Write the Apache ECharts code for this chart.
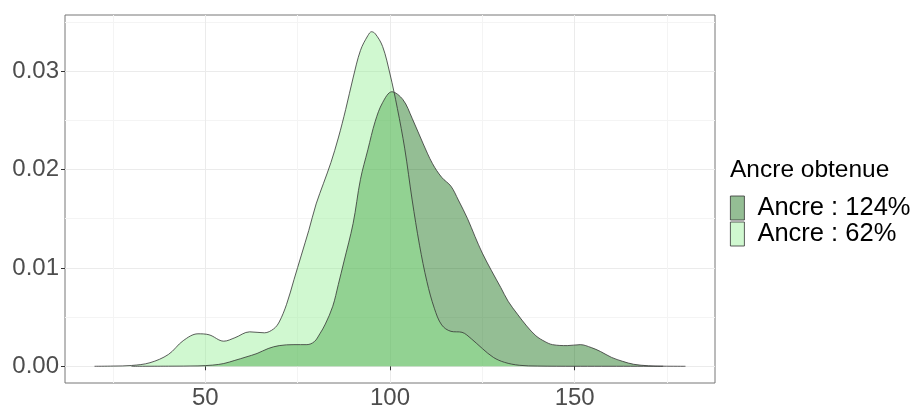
<!DOCTYPE html>
<html>
<head>
<meta charset="utf-8">
<script src="https://cdn.jsdelivr.net/npm/echarts@6/dist/echarts.min.js"></script>
<style>
  html, body { margin: 0; background: #fff; }
  #chart { width: 912px; height: 410px; }
</style>
</head>
<body>
<div id="chart"></div>
<script>
// density of the 124% anchor
const x124 = [30, 40, 48, 52, 55, 58, 61, 64, 67, 70, 74, 77.5, 79.5, 81, 82.5, 84.5, 86, 87.5, 90, 92,
  94, 96, 98, 100.5, 103.5, 106, 109, 111.5, 114, 116.5, 118.5, 121, 123, 125, 127.5, 130, 132, 134.5,
  137, 139.5, 142, 144, 148, 151.5, 154.5, 157, 160, 163, 166, 170, 174, 180]
const d124 = [0, 0.00001, 0.00004, 0.00012, 0.00028, 0.0006, 0.00094, 0.0013, 0.0018, 0.0021, 0.0022,
  0.0022, 0.0025, 0.0033, 0.0043, 0.0061, 0.0083, 0.0106, 0.0145, 0.0190, 0.0220, 0.0249, 0.0268, 0.0279,
  0.0271, 0.0252, 0.0226, 0.0206, 0.0192, 0.0183, 0.0169, 0.0150, 0.0132, 0.0115, 0.0097, 0.0080, 0.0066,
  0.0053, 0.0041, 0.0031, 0.0025, 0.0022, 0.0021, 0.0022, 0.0019, 0.0015, 0.0009, 0.0005, 0.0002,
  0.00005, 0.00001, 0]

// density of the 62% anchor
const x62 = [20, 25, 30, 35, 40, 44, 48, 51, 55, 58, 62, 66, 68.5, 70, 72, 74, 76, 78, 80, 82, 84, 86,
  88, 90, 92, 94, 95, 96, 98, 100, 102, 104, 106, 108, 110, 112, 114, 116.5, 119.5, 122, 125, 128, 131,
  135, 140, 150, 174]
const d62 = [0, 0.00002, 0.00008, 0.00036, 0.0012, 0.0026, 0.0033, 0.0032, 0.00255, 0.0029, 0.0035,
  0.0034, 0.0038, 0.0045, 0.0063, 0.0088, 0.0113, 0.0138, 0.0165, 0.0186, 0.0207, 0.0232, 0.0261,
  0.0293, 0.0321, 0.0336, 0.034, 0.0338, 0.0325, 0.0297, 0.0262, 0.0221, 0.0169, 0.0123, 0.0086,
  0.0059, 0.0042, 0.00355, 0.00345, 0.0028, 0.0018, 0.0009, 0.0004, 0.0001, 0.00002, 0, 0]

const seriesNames = ['Ancre : 124%', 'Ancre : 62%']
const legendTitle = 'Ancre obtenue'
const xTicks = [50, 100, 150]
const xMinor = [25, 75, 125, 175]
const yTicks = [0, 0.01, 0.02, 0.03]
const yMinor = [0.005, 0.015, 0.025, 0.035]

const font = 'Liberation Sans, Arial, sans-serif'
const fills = ['rgba(0,100,0,0.42)', 'rgba(144,238,144,0.42)']

const pairs = (xs, ys) => xs.map((x, i) => [x, ys[i]])

const chart = echarts.init(document.getElementById('chart'))
chart.setOption({
  animation: false,
  title: {
    text: legendTitle,
    left: 730,
    top: 158,
    padding: 0,
    textStyle: { fontFamily: font, fontSize: 24.5, lineHeight: 24, fontWeight: 'normal', color: '#000' }
  },
  legend: {
    orient: 'vertical',
    left: 730,
    top: 195,
    padding: 0,
    itemGap: 0,
    itemWidth: 14,
    itemHeight: 24,
    icon: 'rect',
    textStyle: { fontFamily: font, fontSize: 25.5, lineHeight: 24, color: '#000', padding: [0, 0, 0, 8] },
    data: seriesNames.map((n, i) => ({
      name: n,
      itemStyle: { color: fills[i], borderColor: '#333', borderWidth: 0.8 }
    }))
  },
  grid: {
    left: 65,
    right: 197,
    top: 15,
    bottom: 24,
    show: true,
    borderColor: '#777',
    borderWidth: 1,
    backgroundColor: 'transparent'
  },
  xAxis: [
    {
      type: 'value',
      min: 12,
      max: 188,
      axisLine: { show: false },
      axisTick: { customValues: xTicks, length: 4, lineStyle: { color: '#333' } },
      axisLabel: { customValues: xTicks, fontFamily: font, fontSize: 24, color: '#4d4d4d', margin: 3 },
      splitLine: { show: true, lineStyle: { color: '#ebebeb', width: 1 } }
    },
    {
      type: 'value',
      min: 12,
      max: 188,
      axisLine: { show: false },
      axisTick: { show: false, customValues: xMinor },
      axisLabel: { show: false },
      splitLine: { show: true, lineStyle: { color: '#f4f4f4', width: 1 } }
    }
  ],
  yAxis: [
    {
      type: 'value',
      min: -0.0017,
      max: 0.0357,
      axisLine: { show: false },
      axisTick: { customValues: yTicks, length: 4, lineStyle: { color: '#333' } },
      axisLabel: {
        customValues: yTicks,
        fontFamily: font,
        fontSize: 24,
        color: '#4d4d4d',
        margin: 6,
        formatter: v => v.toFixed(2)
      },
      splitLine: { show: true, lineStyle: { color: '#ebebeb', width: 1 } }
    },
    {
      type: 'value',
      min: -0.0017,
      max: 0.0357,
      axisLine: { show: false },
      axisTick: { show: false, customValues: yMinor },
      axisLabel: { show: false },
      splitLine: { show: true, lineStyle: { color: '#f4f4f4', width: 1 } }
    }
  ],
  series: [
    {
      name: seriesNames[0],
      type: 'line',
      data: pairs(x124, d124),
      smooth: 0.35,
      symbol: 'none',
      color: fills[0],
      lineStyle: { color: '#333', width: 0.8 },
      areaStyle: { color: fills[0], opacity: 1 }
    },
    {
      name: seriesNames[1],
      type: 'line',
      data: pairs(x62, d62),
      smooth: 0.35,
      symbol: 'none',
      color: fills[1],
      lineStyle: { color: '#333', width: 0.8 },
      areaStyle: { color: fills[1], opacity: 1 }
    }
  ]
})
</script>
</body>
</html>
